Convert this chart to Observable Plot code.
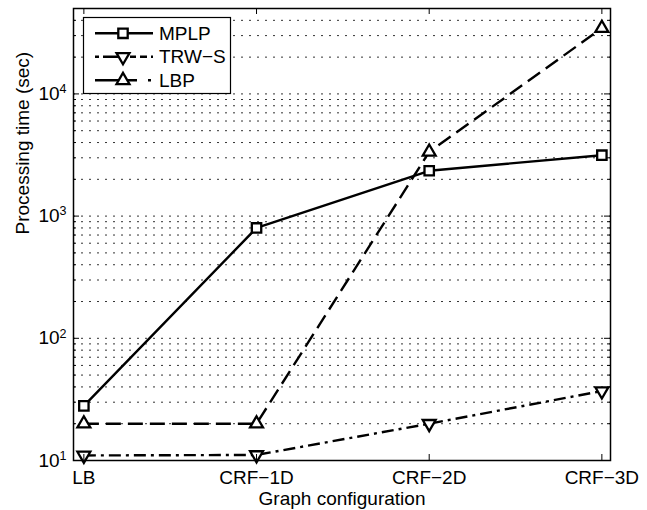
<!DOCTYPE html>
<html><head><meta charset="utf-8">
<script src="https://cdn.jsdelivr.net/npm/d3@7"></script>
<script src="https://cdn.jsdelivr.net/npm/@observablehq/plot@0.6"></script>
<style>
body{margin:0;background:#fff;}
#wrap{position:relative;width:647px;height:510px;font-family:"Liberation Sans",Arial,Helvetica,sans-serif;}
#legend{position:absolute;left:0;top:0;}
</style></head><body><div id="wrap"></div>
<script>
// ---- data ----
const categories = ["LB", "CRF\u22121D", "CRF\u22122D", "CRF\u22123D"];
const mplp = [28, 800, 2350, 3150];
const trws = [11, 11.1, 20, 37];
const lbp = [20, 20, 3350, 34500];
const yMajor = [10, 100, 1000, 10000];
const seriesNames = ["MPLP", "TRW\u2212S", "LBP"];
const xLabel = "Graph configuration";
const yLabel = "Processing time (sec)";

const FONT = "Liberation Sans, Arial, Helvetica, sans-serif";
const W = 647, H = 510, ML = 73, MR = 37, MT = 8, MB = 50;
const FW = W - ML - MR, FH = H - MT - MB;
const yDomain = [10, 50000];

const triDown = {
  draw(ctx, size) {
    const y = -Math.sqrt(size / (Math.sqrt(3) * 3));
    ctx.moveTo(0, -y * 2);
    ctx.lineTo(-Math.sqrt(3) * y, y);
    ctx.lineTo(Math.sqrt(3) * y, y);
    ctx.closePath();
  }
};

const series = [
  {name: seriesNames[0], values: mplp, dash: null, symbol: "square", r: 5.3},
  {name: seriesNames[1], values: trws, dash: "12,5,3,5", symbol: triDown, r: 4.8},
  {name: seriesNames[2], values: lbp, dash: "15,7", symbol: "triangle", r: 4.8}
];
const rows = s => s.values.map((v, i) => ({x: i + 1, y: v}));

const allTicks = d3.scaleLog().domain(yDomain).ticks();
const gridVals = allTicks.filter(v => v > yDomain[0] && v < yDomain[1]);
const minorVals = allTicks.filter(v => !yMajor.includes(v) && v < yDomain[1]);
const xTicks = categories.map((c, i) => i + 1);

const LW = 2.4;
const marks = [
  Plot.ruleY(gridVals, {stroke: "#333", strokeWidth: 1, strokeDasharray: "2,6"}),
  ...series.map(s => Plot.line(rows(s), {x: "x", y: "y", stroke: "black", strokeWidth: LW, strokeDasharray: s.dash, strokeLinecap: "butt", strokeLinejoin: "miter"})),
  ...series.map(s => Plot.dot(rows(s), {x: "x", y: "y", symbol: () => s.symbol, r: s.r, stroke: "black", strokeWidth: 2.3, fill: "white"})),
  Plot.frame({stroke: "black", strokeWidth: 1.5}),
  Plot.tickY(yMajor, {y: d => d, insetRight: FW - 6, stroke: "black", strokeWidth: 1}),
  Plot.tickY(yMajor, {y: d => d, insetLeft: FW - 6, stroke: "black", strokeWidth: 1}),
  Plot.tickY(minorVals, {y: d => d, insetRight: FW - 3, stroke: "black", strokeWidth: 1}),
  Plot.tickY(minorVals, {y: d => d, insetLeft: FW - 3, stroke: "black", strokeWidth: 1}),
  Plot.tickX(xTicks, {x: d => d, insetTop: FH - 6, stroke: "black", strokeWidth: 1}),
  Plot.tickX(xTicks, {x: d => d, insetBottom: FH - 6, stroke: "black", strokeWidth: 1}),
  Plot.axisX({ticks: xTicks, tickFormat: i => categories[i - 1], tickSize: 0, tickPadding: 9.5, fontSize: 19, label: null}),
  Plot.axisY({ticks: yMajor, tickFormat: d => "10^" + Math.round(Math.log10(d)), tickSize: 0, tickPadding: 7, fontSize: 19, label: null}),
  Plot.text([xLabel], {text: d => d, frameAnchor: "bottom", lineAnchor: "middle", dy: 38, fontSize: 19, fill: "black"}),
  Plot.text([yLabel], {text: d => d, frameAnchor: "left", rotate: -90, dx: -51, fontSize: 19, fill: "black"})
];

const chart = Plot.plot({
  width: W, height: H,
  marginLeft: ML, marginRight: MR, marginTop: MT, marginBottom: MB,
  style: {fontFamily: FONT, fontSize: "19px", color: "black", background: "white"},
  x: {type: "linear", domain: [0.94, 4.05]},
  y: {type: "log", domain: yDomain},
  marks
});
document.getElementById("wrap").appendChild(chart);

// superscript exponents on y tick labels
d3.select(chart).selectAll("g[aria-label='y-axis tick label'] text").each(function() {
  const t = d3.select(this);
  const parts = t.text().split("^");
  if (parts.length === 2) {
    t.text(parts[0]);
    t.append("tspan").attr("dy", "-0.55em").attr("font-size", "12.5px").text(parts[1]);
  }
});

// legend overlay
const lg = d3.select("#wrap").append("svg").attr("id", "legend").attr("width", W).attr("height", H)
  .style("font-family", FONT);
lg.append("rect").attr("x", 83.5).attr("y", 17.5).attr("width", 147).attr("height", 76)
  .attr("fill", "white").attr("stroke", "black").attr("stroke-width", 1.2);
const legDash = [null, "4,4,22,5,6,4,7", "42,11,3"];
const legY = [33.3, 56.8, 80.3];
const sym = [d3.symbol(d3.symbolSquare, Math.PI * 5.3 * 5.3), d3.symbol(triDown, Math.PI * 4.8 * 4.8), d3.symbol(d3.symbolTriangle, Math.PI * 4.8 * 4.8)];
series.forEach((s, i) => {
  lg.append("line").attr("x1", 95).attr("x2", 153).attr("y1", legY[i]).attr("y2", legY[i])
    .attr("stroke", "black").attr("stroke-width", LW).attr("stroke-dasharray", legDash[i]);
  lg.append("path").attr("d", sym[i]()).attr("transform", `translate(123,${legY[i]})`)
    .attr("fill", "white").attr("stroke", "black").attr("stroke-width", 2.3);
  lg.append("text").attr("x", 159).attr("y", legY[i]).attr("dy", "0.35em").attr("font-size", 19).text(s.name);
});
</script></body></html>
